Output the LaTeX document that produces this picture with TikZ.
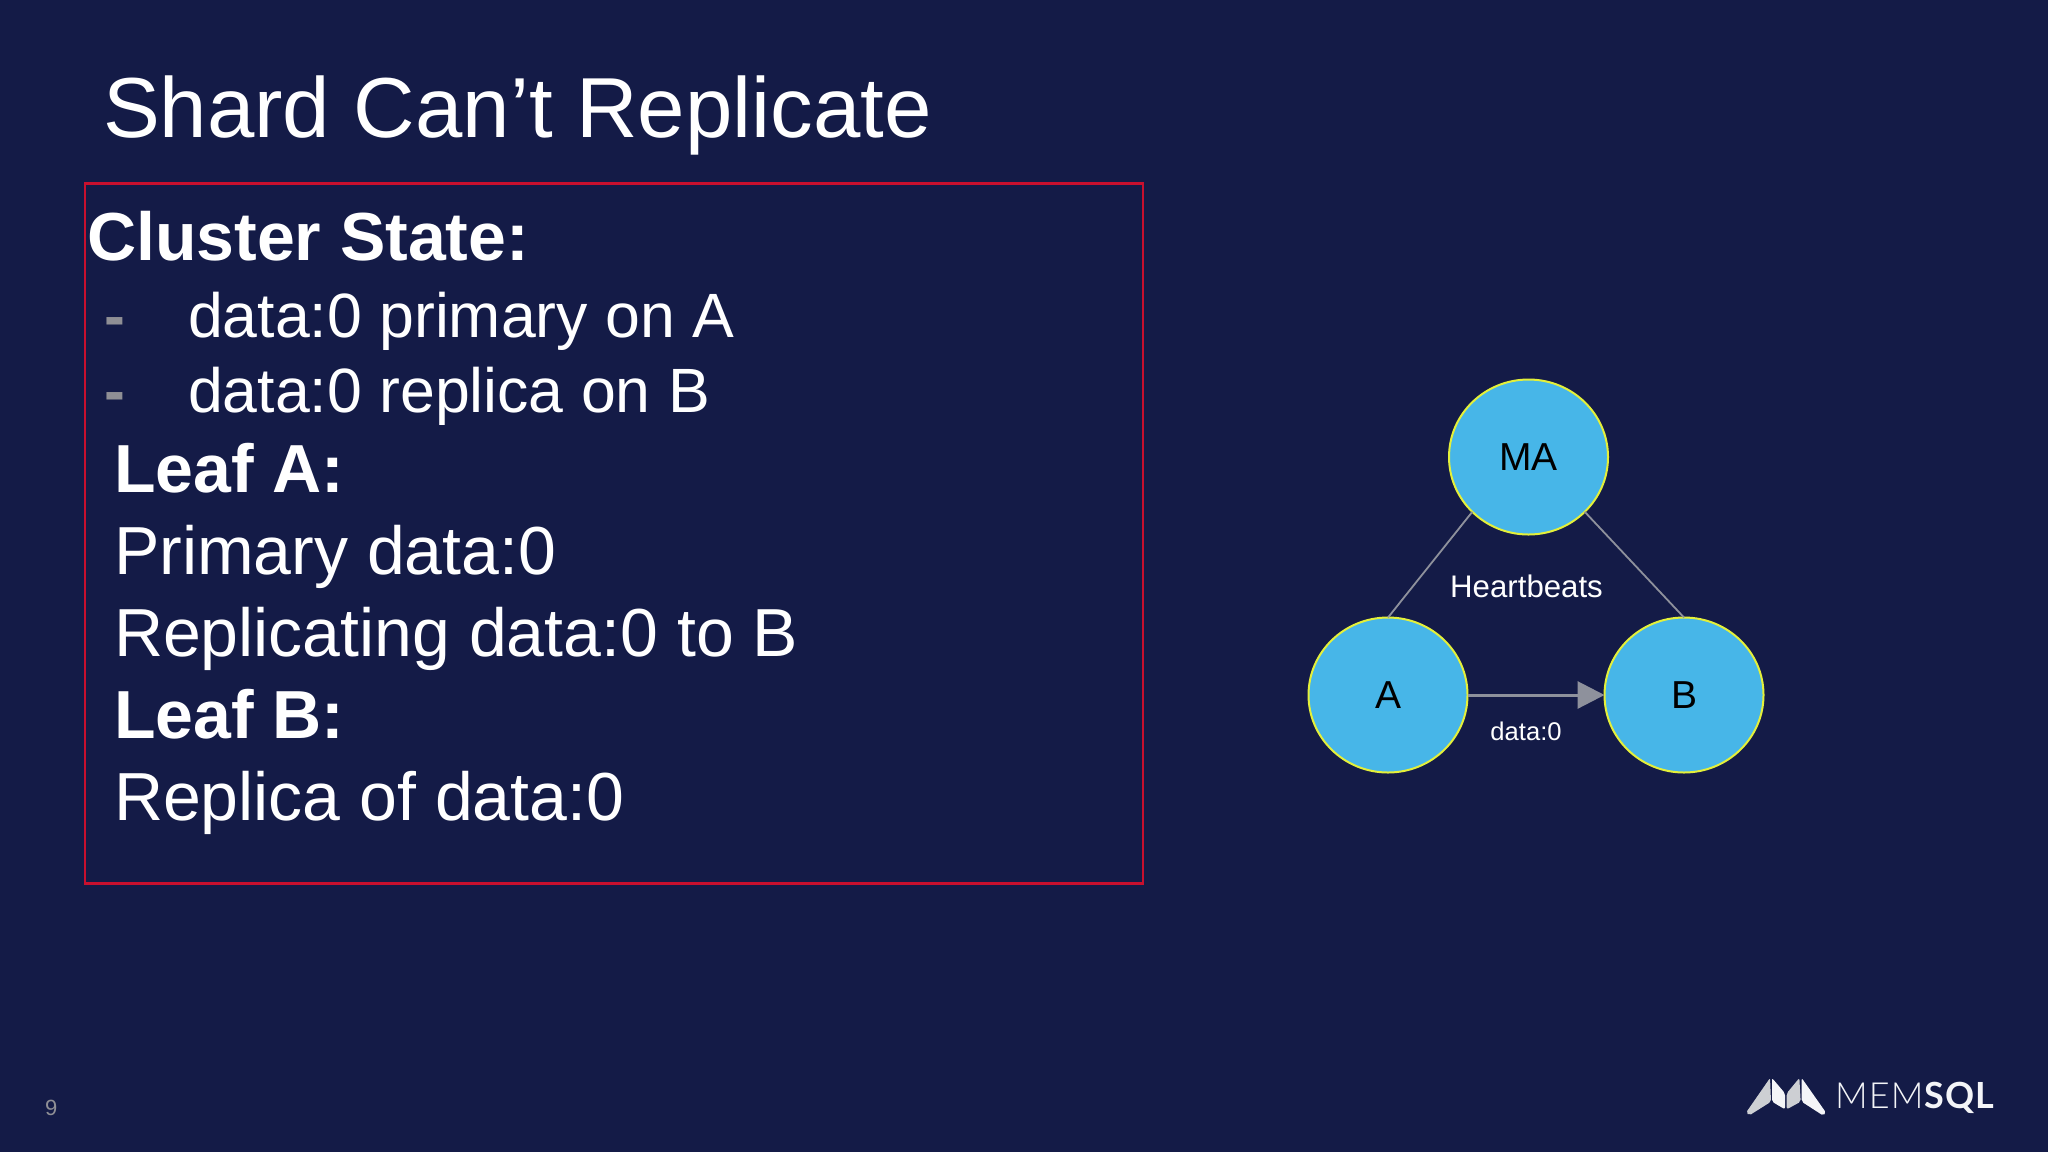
\documentclass[tikz,border=0pt]{standalone}
\usepackage{fontspec}
\setmainfont{Liberation Sans}
\newfontfamily\logofont[UprightFont=* Light,BoldFont=* Bold]{Lato}
\usetikzlibrary{arrows.meta,shapes.geometric}
\definecolor{bgnavy}{HTML}{141B47}
\definecolor{boxred}{HTML}{C8102E}
\definecolor{nodeblue}{HTML}{47B6E8}
\definecolor{nodeedge}{HTML}{E4F03A}
\definecolor{linkgray}{HTML}{8E919C}
\definecolor{dashgray}{HTML}{8F8F95}
\definecolor{logowhite}{HTML}{F4F5F8}
\definecolor{logogray}{HTML}{CDCFD3}
\tikzset{
  textline/.style={anchor=base west,inner sep=0pt,outer sep=0pt,text=white},
  bodytext/.style={textline,font=\fontsize{34}{40}\selectfont},
  bodybold/.style={textline,font=\fontsize{34}{40}\selectfont\bfseries},
  listtext/.style={textline,font=\fontsize{31.3}{38}\selectfont},
  listdash/.style={textline,text=dashgray,font=\fontsize{31.3}{38}\selectfont\bfseries},
  titletext/.style={textline,font=\fontsize{42.6}{50}\selectfont},
  statebox/.style={draw=boxred,line width=1.1pt,outer sep=0pt},
  clusternode/.style={ellipse,fill=nodeblue,draw=nodeedge,line width=1pt,minimum width=79.5pt,minimum height=77.5pt,inner sep=0pt,outer sep=0pt,text=black,font=\fontsize{19.5}{22}\selectfont},
  heartlink/.style={draw=linkgray,line width=0.9pt},
  datalink/.style={draw=linkgray,line width=1.5pt,-{Triangle[length=13.5pt,width=13.5pt]}},
  midlabel/.style={anchor=base,inner sep=0pt,outer sep=0pt,text=white},
  logolight/.style={fill=logowhite},
  logoshade/.style={fill=logogray},
}
\begin{document}
\begin{tikzpicture}[x=0.5pt,y=-0.5pt]
\useasboundingbox[fill=bgnavy] (0,0) rectangle (2048,1152);
\node[titletext] (title) at (103,137) {Shard Can’t Replicate};
\node[statebox,minimum width=529pt,minimum height=350pt,inner sep=0pt,anchor=north west] (box) at (85,183.5) {};
\node[bodybold] (cs) at (87,260) {Cluster State:};
\node[listdash] (d1) at (104,337) {-};
\node[listtext] (l1) at (188,337) {data:0 primary on A};
\node[listdash] (d2) at (104,412) {-};
\node[listtext] (l2) at (188,412) {data:0 replica on B};
\node[bodybold] (la) at (114,492.5) {Leaf A:};
\node[bodytext] (pa) at (114,574.5) {Primary data:0};
\node[bodytext] (ra) at (114,656.5) {Replicating data:0 to B};
\node[bodybold] (lb) at (114,738) {Leaf B:};
\node[bodytext] (rb) at (114,820.5) {Replica of data:0};
\node[clusternode] (MA) at (1528.5,457) {MA};
\node[clusternode] (A) at (1388,695) {A};
\node[clusternode] (B) at (1684,695) {B};
\draw[heartlink] (MA.south west) -- (A.north);
\draw[heartlink] (MA.south east) -- (B.north);
\draw[datalink] (A.east) -- (B.west);
\node[midlabel,font=\fontsize{15.6}{18}\selectfont] (hb) at (1526.5,597) {Heartbeats};
\node[midlabel,font=\fontsize{12.8}{15}\selectfont] (dl) at (1526,740) {data:0};
\node[textline,text=dashgray,font=\fontsize{11}{13}\selectfont] (pg) at (45,1115) {9};
\begin{scope}[shift={(1720,1050)},x=0.16667pt,y=-0.16667pt]
  \fill[logoshade,rounded corners=1pt] (150,84) -- (78,188) -- (88,196) -- (153,155) -- cycle;
  \fill[logolight,rounded corners=1pt] (156,84) -- (195,130) -- (195,178) -- (156,155) -- cycle;
  \fill[logoshade,rounded corners=1pt] (200,130) -- (238,84) -- (242,155) -- (200,178) -- cycle;
  \fill[logolight,rounded corners=1pt] (245,84) -- (318,188) -- (310,197) -- (245,155) -- cycle;
\end{scope}
\node[textline,text=logowhite,font=\logofont\fontsize{18}{20}\selectfont] (logo) at (1835,1108) {\addfontfeature{LetterSpace=3}MEM\textbf{SQL}};
\end{tikzpicture}
\end{document}
